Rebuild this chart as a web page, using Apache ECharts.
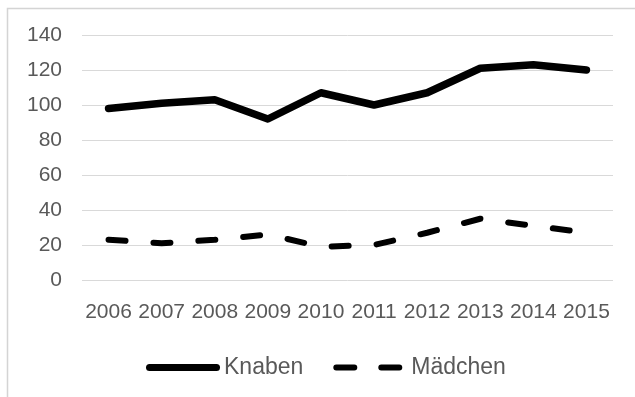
<!DOCTYPE html>
<html>
<head>
<meta charset="utf-8">
<script src="https://cdn.jsdelivr.net/npm/echarts@6/dist/echarts.min.js"></script>
<style>
  html, body { margin: 0; padding: 0; background: #ffffff; }
  #chart { width: 635px; height: 397px; }
</style>
</head>
<body>
<div id="chart"></div>
<script>
// Jahre (Kategorien)
const years = ['2006', '2007', '2008', '2009', '2010', '2011', '2012', '2013', '2014', '2015'];
// Anzahl Knaben pro Jahr
const knaben = [98, 101, 103, 92, 107, 100, 107, 121, 123, 120];
// Anzahl Mädchen pro Jahr
const maedchen = [23, 21, 23, 26, 19, 20, 27, 35, 31, 27];
// Beschriftung der y-Achse
const yTicks = [0, 20, 40, 60, 80, 100, 120, 140];

const textColor = '#595959';
const font = 'Liberation Sans, Arial, sans-serif';

const chart = echarts.init(document.getElementById('chart'), null, { renderer: 'canvas' });

chart.setOption({
  animation: false,
  backgroundColor: '#ffffff',
  graphic: [{
    type: 'rect',
    left: 5, top: 6,
    shape: { width: 660, height: 420 },
    style: { fill: 'none', stroke: '#d4d4d4', lineWidth: 1.5 },
    silent: true,
    z: -1
  }],
  grid: { left: 82, right: 22, top: 35, bottom: 117, containLabel: false },
  xAxis: {
    type: 'category',
    data: years,
    boundaryGap: true,
    axisLine: { show: false },
    axisTick: { show: false },
    axisLabel: { color: textColor, fontSize: 21, fontFamily: font, margin: 22, interval: 0 }
  },
  yAxis: {
    type: 'value',
    min: yTicks[0],
    max: yTicks[yTicks.length - 1],
    interval: 20,
    axisLine: { show: false },
    axisTick: { show: false },
    axisLabel: { color: textColor, fontSize: 21, fontFamily: font, margin: 20 },
    splitLine: { lineStyle: { color: '#d9d9d9', width: 1 } }
  },
  legend: {
    left: 141,
    top: 351,
    itemWidth: 74,
    itemHeight: 7,
    itemGap: 30,
    textStyle: { color: textColor, fontSize: 23, fontFamily: font, padding: [0, 0, 0, -1] },
    data: [
      { name: 'Knaben', icon: 'path://M3.5,0H70.5A3.5,3.5 0 0 1 70.5,7H3.5A3.5,3.5 0 0 1 3.5,0Z' },
      { name: 'Mädchen', icon: 'path://M3,0H21A3,3 0 0 1 21,6H3A3,3 0 0 1 3,0Z M48,0H66A3,3 0 0 1 66,6H48A3,3 0 0 1 48,0Z M0,0H0.01M74,0H74.01' }
    ]
  },
  series: [
    {
      name: 'Knaben',
      type: 'line',
      data: knaben,
      showSymbol: false,
      symbol: 'none',
      color: '#000000',
      lineStyle: { color: '#000000', width: 7.5, cap: 'round', join: 'round' }
    },
    {
      name: 'Mädchen',
      type: 'line',
      data: maedchen,
      showSymbol: false,
      symbol: 'none',
      color: '#000000',
      lineStyle: { color: '#000000', width: 6, type: [17, 28], cap: 'round', join: 'round' }
    }
  ]
});
</script>
</body>
</html>
